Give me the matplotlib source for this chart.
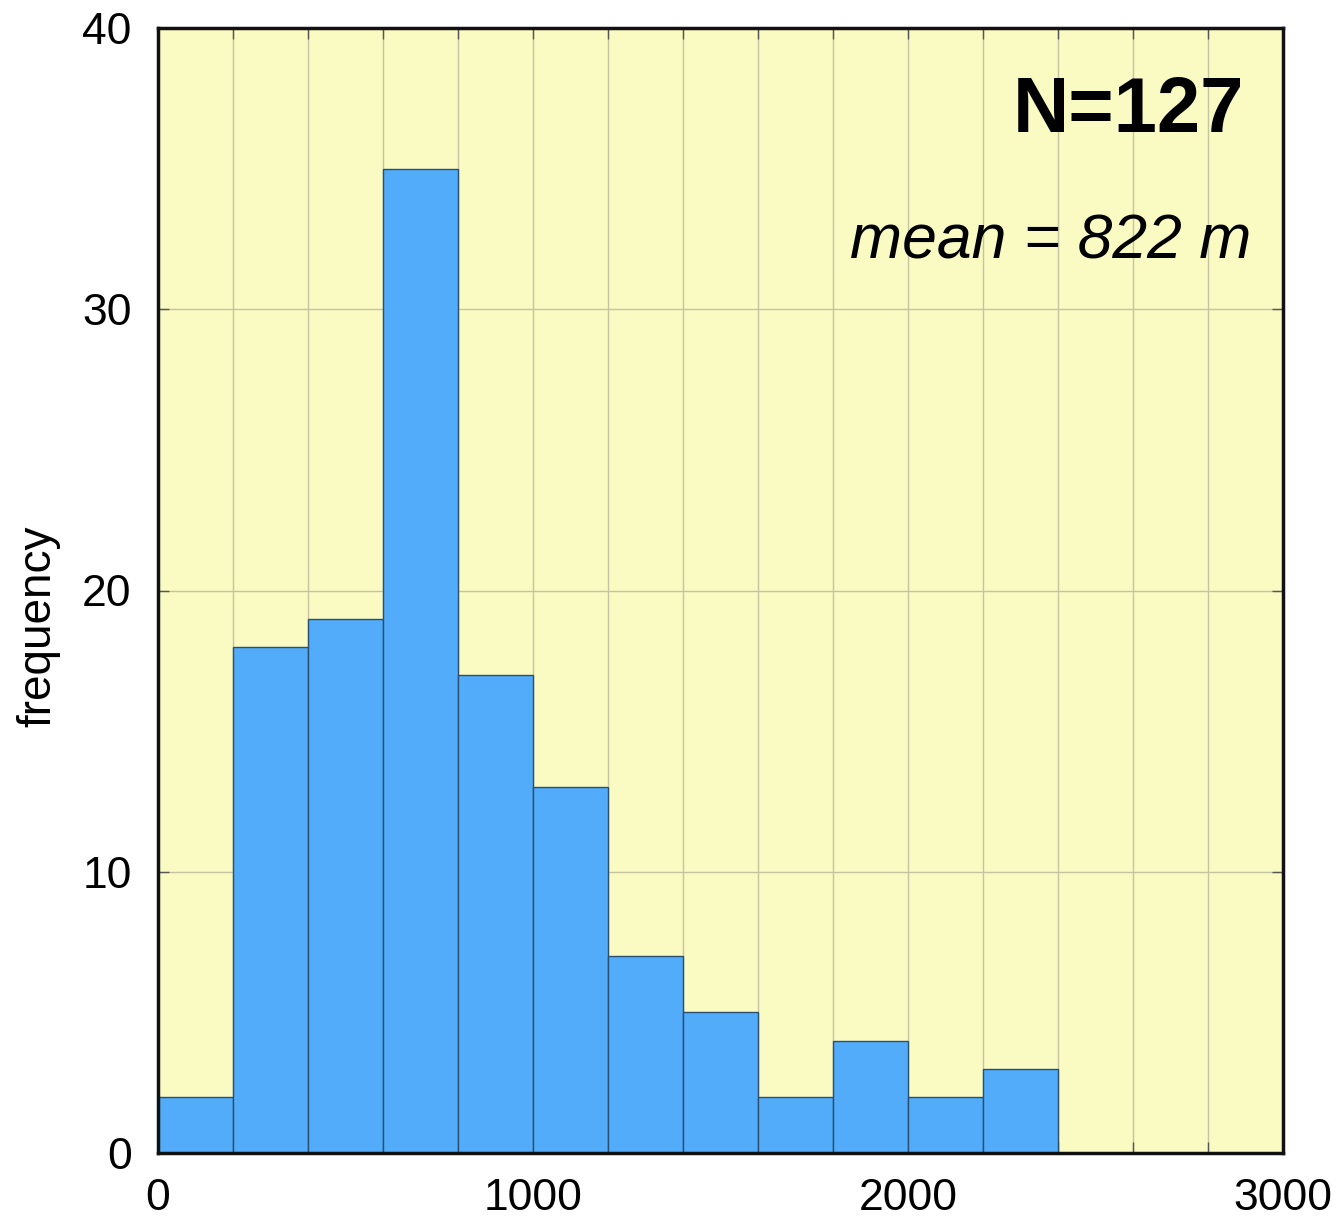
import numpy as np
import matplotlib
matplotlib.use('Agg')
import matplotlib.pyplot as plt
from matplotlib.ticker import MultipleLocator

plt.rcParams['font.family'] = ['Liberation Sans', 'DejaVu Sans']

# histogram data (bin edges in m, counts)
bin_edges = [0, 200, 400, 600, 800, 1000, 1200, 1400, 1600, 1800, 2000, 2200, 2400]
counts = [2, 18, 19, 35, 17, 13, 7, 5, 2, 4, 2, 3]
n_label = 'N=127'
mean_label = 'mean = 822 m'

fig = plt.figure(figsize=(13.36, 12.19), dpi=100)
ax = fig.add_axes([158 / 1336, 66 / 1219, 1125 / 1336, 1125 / 1219])
ax.set_facecolor('#fafac3')

lefts = bin_edges[:-1]
widths = np.diff(bin_edges)
ax.bar(lefts, counts, width=widths, align='edge', color='#52acfa',
       edgecolor='#2a4f70', linewidth=1.0, zorder=3)

ax.set_xlim(0, 3000)
ax.set_ylim(0, 40)
ax.xaxis.set_major_locator(MultipleLocator(1000))
ax.xaxis.set_minor_locator(MultipleLocator(200))
ax.yaxis.set_major_locator(MultipleLocator(10))
ax.grid(True, which='both', axis='x', color='#c4c4a2', linewidth=1.0, zorder=1)
ax.grid(True, which='major', axis='y', color='#c4c4a2', linewidth=1.0, zorder=1)
ax.tick_params(which='both', direction='in', length=8, width=1, color='#555555',
               top=True, right=True, labelsize=32)
ax.tick_params(axis='x', pad=18)
ax.tick_params(axis='y', pad=19)
for s in ax.spines.values():
    s.set_linewidth(2.5)
    s.set_color('#111111')
    s.set_zorder(5)

ax.set_ylabel('frequency', fontsize=33)
ax.yaxis.set_label_coords(-0.087, 0.468)

ax.text(0.965, 0.958, n_label, transform=ax.transAxes, ha='right', va='top',
        fontsize=56, fontweight='bold')
ax.text(0.972, 0.81, mean_label, transform=ax.transAxes, ha='right', va='center',
        fontsize=45, style='italic')

fig.savefig('out.png', dpi=100)
